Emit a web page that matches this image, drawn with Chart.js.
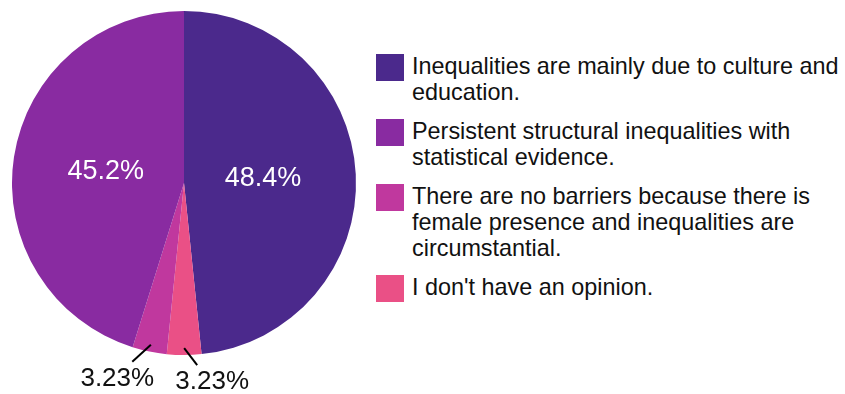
<!DOCTYPE html>
<html>
<head>
<meta charset="utf-8">
<script src="https://cdn.jsdelivr.net/npm/chart.js@4"></script>
<style>
  html, body { margin: 0; padding: 0; background: #fff; overflow: hidden; }
  body { width: 845px; height: 394px; position: relative; font-family: 'Liberation Sans', Arial, sans-serif; }
  #pie { position: absolute; left: 0; top: 0; }
  #legend { position: absolute; left: 376px; top: 54px; }
  .item { display: flex; align-items: flex-start; margin-bottom: 14px; }
  .box { width: 28px; height: 27px; flex: none; margin-right: 8px; }
  .txt { width: 445px; font-size: 23.4px; line-height: 26px; color: #111; margin-top: -1px; }
</style>
</head>
<body>
<canvas id="pie" width="370" height="394"></canvas>
<div id="legend"></div>
<script>
// answers, in legend order
const categories = [
    'Inequalities are mainly due to culture and education.',
    'Persistent structural inequalities with statistical evidence.',
    'There are no barriers because there is female presence and inequalities are circumstantial.',
    "I don't have an opinion."
];
const shares = [48.4, 45.2, 3.23, 3.23];
const colors = ['#4b298c', '#892ba1', '#c0389e', '#ea5086'];
// order the slices are drawn clockwise from the top
const sliceOrder = [0, 3, 2, 1];

const font = "'Liberation Sans', Arial, sans-serif";

// legend on the right
const legendEl = document.getElementById('legend');
categories.forEach((c, i) => {
    const row = document.createElement('div');
    row.className = 'item';
    row.innerHTML = '<div class="box" style="background:' + colors[i] + '"></div><div class="txt">' + c + '</div>';
    legendEl.appendChild(row);
});

const pctLabels = {
    id: 'pctLabels',
    afterDatasetsDraw(chart) {
        const ctx = chart.ctx;
        const arcs = chart.getDatasetMeta(0).data;
        const vals = chart.data.datasets[0].data;
        ctx.save();
        ctx.textAlign = 'center';
        ctx.textBaseline = 'middle';
        arcs.forEach((arc, i) => {
            const p = arc.getProps(['x', 'y', 'startAngle', 'endAngle', 'outerRadius']);
            const mid = (p.startAngle + p.endAngle) / 2;
            const text = vals[i] + '%';
            if (vals[i] > 10) {
                const r = p.outerRadius * 0.46;
                ctx.font = '27px ' + font;
                ctx.fillStyle = '#fff';
                ctx.fillText(text, p.x + Math.cos(mid) * r, p.y + Math.sin(mid) * r);
            } else {
                // small slices get a leader line and an outside label
                const r = p.outerRadius * 0.96;
                const sx = p.x + Math.cos(mid) * r;
                const sy = p.y + Math.sin(mid) * r;
                const side = sx >= p.x - 1 ? 1 : -1;
                const ex = sx + side * 13 + Math.cos(mid) * 28;
                const ey = sy + 17;
                ctx.strokeStyle = '#000';
                ctx.lineWidth = 2;
                ctx.beginPath();
                ctx.moveTo(sx, sy);
                ctx.lineTo(ex, ey);
                ctx.stroke();
                ctx.font = '26px ' + font;
                ctx.fillStyle = '#111';
                ctx.fillText(text, ex + side * 15, ey + 17);
            }
        });
        ctx.restore();
    }
};

new Chart(document.getElementById('pie'), {
    type: 'pie',
    data: {
        labels: sliceOrder.map(i => categories[i]),
        datasets: [{
            data: sliceOrder.map(i => shares[i]),
            backgroundColor: sliceOrder.map(i => colors[i]),
            borderWidth: 0
        }]
    },
    options: {
        responsive: false,
        animation: false,
        layout: { padding: { left: 12, right: 14, top: 11, bottom: 39 } },
        plugins: {
            legend: { display: false },
            tooltip: { enabled: false }
        }
    },
    plugins: [pctLabels]
});
</script>
</body>
</html>
